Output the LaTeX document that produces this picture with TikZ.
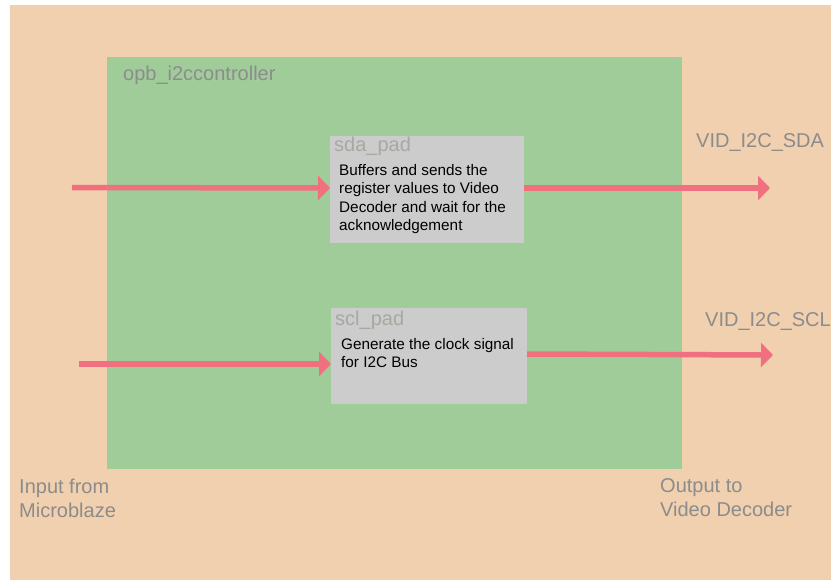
\documentclass[tikz,border=0pt]{standalone}
\usepackage{fontspec}
\setmainfont{Liberation Sans}
\usetikzlibrary{arrows.meta}
\definecolor{peach}{HTML}{F0D0AE}
\definecolor{leaf}{HTML}{A0CC9A}
\definecolor{padgray}{HTML}{CCCCCC}
\definecolor{arrowpink}{HTML}{F07080}
\definecolor{labelgray}{HTML}{8C8C8C}
\definecolor{padlabel}{HTML}{A8A8A2}
\tikzset{
  sig/.style={draw=arrowpink, line width=5.5pt, -{Triangle[length=12pt,width=24pt]}},
  biglabel/.style={font=\fontsize{20}{24}\selectfont, text=labelgray, inner sep=0pt, anchor=base west, align=left},
  padname/.style={font=\fontsize{20}{24}\selectfont, text=padlabel, inner sep=0pt, anchor=base west},
  desc/.style={font=\fontsize{15.3}{18.5}\selectfont, text=black, inner sep=0pt, anchor=base west, align=left},
  padbox/.style={fill=padgray, draw=none},
}
\begin{document}
\begin{tikzpicture}[x=1pt,y=-1pt]
\useasboundingbox (0,0) rectangle (831,581);
\fill[peach] (10,5) rectangle (831,580);
\fill[leaf] (107,57) rectangle (682,469);
\node[biglabel] (ctrl) at (123,80) {opb\_i2ccontroller};
% pads
\path[padbox] (330,136) rectangle (524,243);
\coordinate (sdaW) at (330,188);
\coordinate (sdaE) at (524,188);
\node[padname] (sdaname) at (334,151) {sda\_pad};
\node[desc] (sdadesc) at (339,230.5) {Buffers and sends the\\register values to Video\\Decoder and wait for the\\acknowledgement};
\path[padbox] (331,308) rectangle (527,404);
\coordinate (sclW) at (331,364);
\coordinate (sclE) at (527,354);
\node[padname] (sclname) at (335,325) {scl\_pad};
\node[desc] (scldesc) at (341,367.5) {Generate the clock signal\\for I2C Bus};
% io
\coordinate (inA) at (72,187.5);
\coordinate (inB) at (79,364);
\coordinate (outA) at (770,188);
\coordinate (outB) at (773,355);
\draw[sig] (inA) -- (sdaW);
\draw[sig] (inB) -- (sclW);
\draw[sig] (sdaE) -- (outA);
\draw[sig] (sclE) -- (outB);
\node[biglabel] (sdaout) at (696,147) {VID\_I2C\_SDA};
\node[biglabel] (sclout) at (705,326) {VID\_I2C\_SCL};
\node[biglabel] (inlbl) at (19,517) {Input from\\Microblaze};
\node[biglabel] (outlbl) at (660,516) {Output to\\Video Decoder};
\end{tikzpicture}
\end{document}
